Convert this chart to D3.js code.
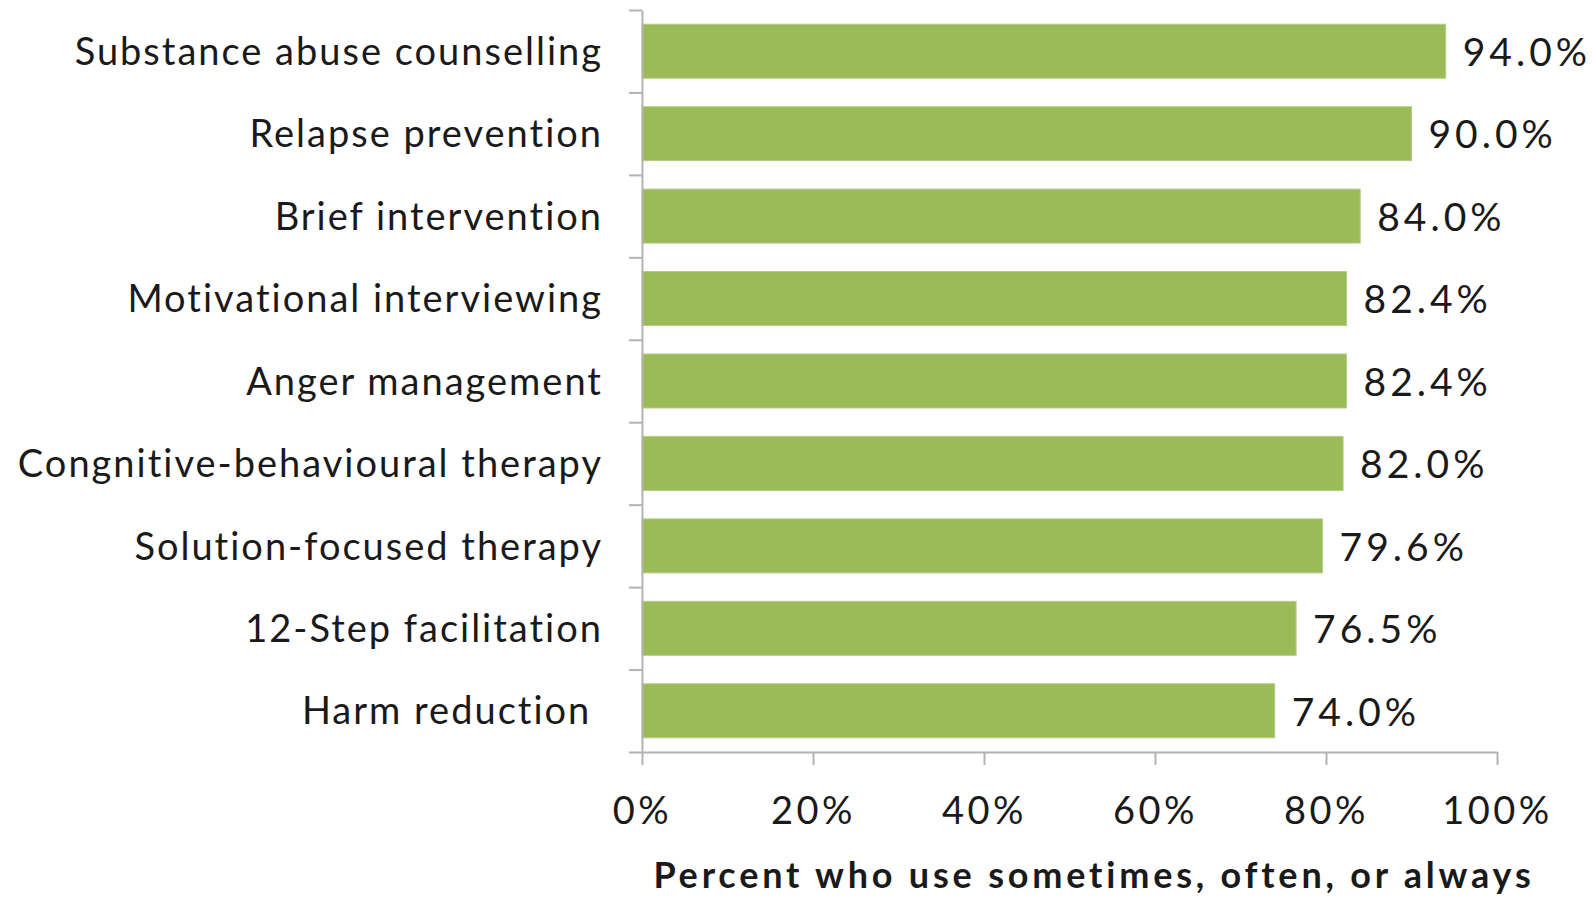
<!DOCTYPE html>
<html>
<head>
<meta charset="utf-8">
<script src="https://cdn.jsdelivr.net/npm/d3@7"></script>
<style>
  html, body { margin: 0; padding: 0; background: #fff; }
  svg text { font-family: Lato, "Open Sans", sans-serif; fill: #1a1a1a; }
</style>
</head>
<body>
<svg id="chart" width="1594" height="902"></svg>
<script>
const categories = [
  "Substance abuse counselling",
  "Relapse prevention",
  "Brief intervention",
  "Motivational interviewing",
  "Anger management",
  "Congnitive-behavioural therapy",
  "Solution-focused therapy",
  "12-Step facilitation",
  "Harm reduction "
];
const values = [0.940, 0.900, 0.840, 0.824, 0.824, 0.820, 0.796, 0.765, 0.740];
const valueLabels = ["94.0%", "90.0%", "84.0%", "82.4%", "82.4%", "82.0%", "79.6%", "76.5%", "74.0%"];
const xTicks = [0, 0.2, 0.4, 0.6, 0.8, 1.0];
const xTitle = "Percent who use sometimes, often, or always";

const svg = d3.select("#chart");
const plotLeft = 642, plotRight = 1497, plotTop = 10, plotBottom = 752;
const axisColor = "#b3b3b3";

const x = d3.scaleLinear().domain([0, 1]).range([plotLeft, plotRight]);
const y = d3.scaleBand().domain(categories).range([plotTop, plotBottom])
  .paddingInner(0.345).paddingOuter(0.1725);
const yEdges = d3.scaleLinear().domain([0, categories.length]).range([plotTop, plotBottom]);

// bars
svg.append("g").selectAll("rect").data(values).join("rect")
  .attr("x", x(0))
  .attr("y", (d, i) => y(categories[i]))
  .attr("width", d => x(d) - x(0))
  .attr("height", y.bandwidth())
  .attr("fill", "#9bbb59")
  .attr("stroke", "#b5cd85")
  .attr("stroke-width", 1);

// y axis (ticks at band edges)
const yAxis = svg.append("g").attr("transform", `translate(${plotLeft},0)`)
  .call(d3.axisLeft(yEdges).tickValues(d3.range(categories.length + 1))
    .tickFormat("").tickSizeInner(13).tickSizeOuter(0));
yAxis.selectAll("path, line").attr("stroke", axisColor).attr("stroke-width", 2);

// x axis
const xAxis = svg.append("g").attr("transform", `translate(0,${plotBottom})`)
  .call(d3.axisBottom(x).tickValues(xTicks).tickFormat(d3.format(".0%"))
    .tickSizeInner(13).tickSizeOuter(0).tickPadding(32));
xAxis.selectAll("path, line").attr("stroke", axisColor).attr("stroke-width", 2);
xAxis.selectAll("text")
  .attr("font-size", 38)
  .attr("font-family", "Lato, sans-serif")
  .attr("letter-spacing", 3.5)
  .attr("fill", "#1a1a1a");

// category labels
svg.append("g").selectAll("text").data(categories).join("text")
  .attr("x", 603)
  .attr("y", d => y(d) + y.bandwidth() / 2)
  .attr("dy", "0.36em")
  .attr("text-anchor", "end")
  .attr("font-size", 38)
  .attr("letter-spacing", 2)
  .style("white-space", "pre")
  .text(d => d);

// value labels
svg.append("g").selectAll("text").data(values).join("text")
  .attr("x", d => x(d) + 17)
  .attr("y", (d, i) => y(categories[i]) + y.bandwidth() / 2)
  .attr("dy", "0.38em")
  .attr("font-size", 39)
  .attr("letter-spacing", 4)
  .text((d, i) => valueLabels[i]);

// x axis title
svg.append("text")
  .attr("x", 1094)
  .attr("y", 888)
  .attr("text-anchor", "middle")
  .attr("font-size", 36)
  .attr("font-weight", "bold")
  .attr("letter-spacing", 3.8)
  .text(xTitle);
</script>
</body>
</html>
